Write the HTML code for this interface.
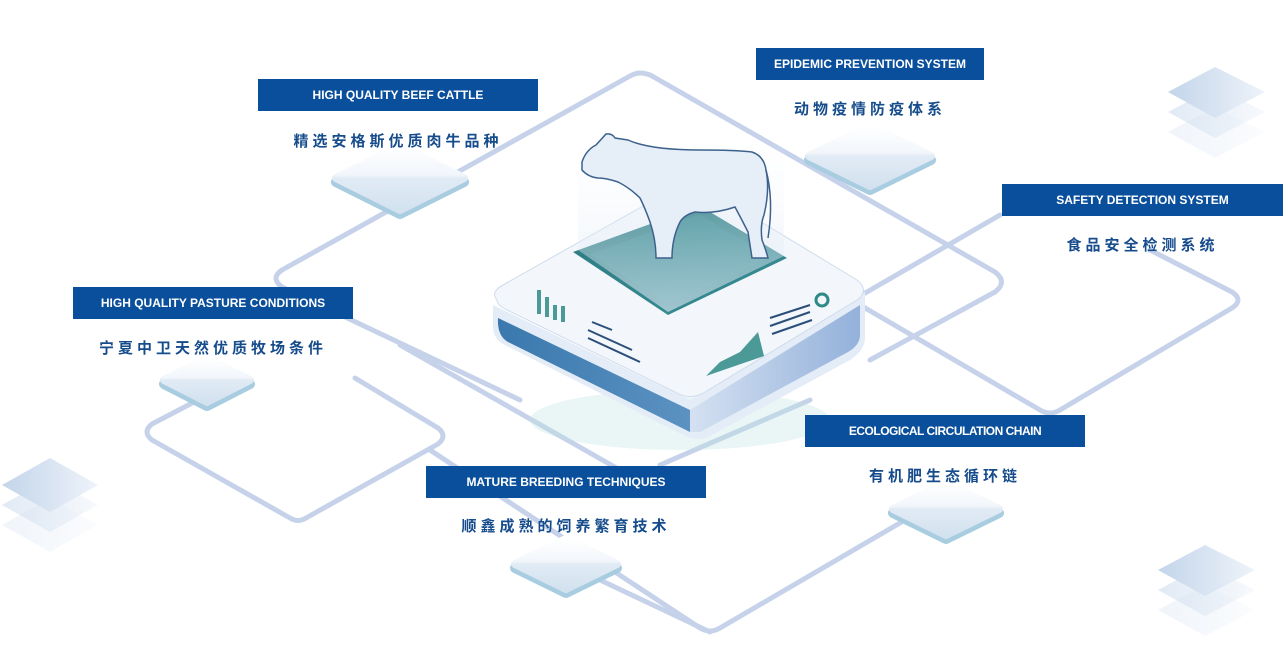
<!DOCTYPE html>
<html><head><meta charset="utf-8"><style>
html,body{margin:0;padding:0;background:#fff;}
#c{position:relative;width:1283px;height:660px;overflow:hidden;font-family:"Liberation Sans","Noto Sans CJK SC",sans-serif;}
.bar{position:absolute;height:32px;background:#0a4f9b;color:#fff;font-weight:bold;font-size:12px;line-height:32px;text-align:center;}
.cn{position:absolute;color:#164c8c;font-weight:bold;font-size:15px;letter-spacing:4px;text-align:center;font-family:"Noto Sans CJK SC","Liberation Sans",sans-serif;}
svg{position:absolute;left:0;top:0;}
</style></head><body><div id="c">
<svg width="1283" height="660" viewBox="0 0 1283 660">
<defs>
<linearGradient id="pad" x1="0" y1="0" x2="0" y2="1"><stop offset="0" stop-color="#ffffff"/><stop offset="0.45" stop-color="#f2f6fb"/><stop offset="0.5" stop-color="#e1ebf5"/><stop offset="1" stop-color="#d3e2ef"/></linearGradient>
<linearGradient id="sq" x1="0" y1="0" x2="1" y2="0"><stop offset="0" stop-color="#c3d5ea"/><stop offset="1" stop-color="#eef3fa"/></linearGradient>
<linearGradient id="lf" x1="0" y1="0" x2="1" y2="0"><stop offset="0" stop-color="#3a78ad"/><stop offset="1" stop-color="#5b92c2"/></linearGradient>
<linearGradient id="rf" x1="0" y1="0" x2="1" y2="0"><stop offset="0" stop-color="#d5e1f2"/><stop offset="1" stop-color="#93b1da"/></linearGradient>
<linearGradient id="glass" x1="0" y1="0" x2="0" y2="1"><stop offset="0" stop-color="#eef3f9" stop-opacity="0"/><stop offset="1" stop-color="#dfe9f5" stop-opacity="0.9"/></linearGradient>
<linearGradient id="teal" x1="0" y1="0" x2="1" y2="1"><stop offset="0" stop-color="#2c7a80"/><stop offset="1" stop-color="#3a8e96"/></linearGradient>
</defs>
<g fill="none" stroke="#c5d2ea" stroke-width="5" stroke-linejoin="round" stroke-linecap="round">
<path d="M520 400 L282 287 Q270 278 282 270 L630 76 Q640 70 652 76 L995 272 Q1008 282 995 292 L870 360"/>
<path d="M355 378 L438 428 Q448 436 438 444 L306 518 Q298 523 290 518 L152 440 Q142 432 152 424 L240 378"/>
<path d="M860 296 L1000 215 M1150 250 L1232 292 Q1244 300 1232 308 L1060 410 Q1050 416 1040 410 L800 270"/>
<path d="M430 450 L700 628 Q710 634 720 628 L905 520"/>
<path d="M660 465 L810 400 M400 345 L620 470 M600 580 L710 632"/>
</g>
<g>
<path d="M1168 92 L1215 67 L1265 92 L1215 118Z" fill="url(#sq)"/>
<path d="M1168 112 L1215 87 L1265 112 L1215 138Z" fill="url(#sq)" opacity="0.5"/>
<path d="M1168 132 L1215 107 L1265 132 L1215 158Z" fill="url(#sq)" opacity="0.25"/>
<path d="M2 485 L50 458 L98 485 L50 512Z" fill="url(#sq)"/>
<path d="M2 505 L50 478 L98 505 L50 532Z" fill="url(#sq)" opacity="0.5"/>
<path d="M2 525 L50 498 L98 525 L50 552Z" fill="url(#sq)" opacity="0.25"/>
<path d="M1158 570 L1205 545 L1255 570 L1205 596Z" fill="url(#sq)"/>
<path d="M1158 590 L1205 565 L1255 590 L1205 616Z" fill="url(#sq)" opacity="0.5"/>
<path d="M1158 610 L1205 585 L1255 610 L1205 636Z" fill="url(#sq)" opacity="0.25"/>
</g>
<!-- pads: rounded diamonds -->
<g stroke-linejoin="round">
<g stroke="#a9cde0" stroke-width="10"><path d="M336 182 L400 150 L464 182 L400 214Z"/><path d="M809 160 L870 130 L931 160 L870 190Z"/><path d="M164 384 L207 362 L250 384 L207 406Z"/><path d="M893 513 L946 487 L999 513 L946 539Z"/><path d="M515 568 L566 543 L617 568 L566 593Z"/></g>
<g stroke="url(#pad)" fill="url(#pad)" stroke-width="8"><path d="M336 178 L400 146 L464 178 L400 210Z"/><path d="M809 156 L870 126 L931 156 L870 186Z"/><path d="M164 380 L207 358 L250 380 L207 402Z"/><path d="M893 509 L946 483 L999 509 L946 535Z"/><path d="M515 564 L566 539 L617 564 L566 589Z"/></g>
</g>
<!-- platform -->
<ellipse cx="680" cy="420" rx="150" ry="30" fill="#bfe6e3" opacity="0.35"/>
<path d="M493 305 L690 400 L865 292 L865 335 Q866 350 850 360 L710 436 Q698 442 685 436 L505 345 Q492 338 493 325Z" fill="#e3ecf7"/>
<path d="M498 318 L690 410 L690 432 L508 342 Q497 336 498 318Z" fill="url(#lf)"/>
<path d="M690 410 L860 305 L860 335 Q860 345 848 352 L700 432 L690 432Z" fill="url(#rf)"/>
<path d="M497 300 Q490 292 503 285 L675 188 Q690 180 705 188 L857 280 Q870 290 857 300 L705 392 Q690 401 675 392 L507 310 Q497 305 497 300Z" fill="#f3f7fc" stroke="#cfdcec"/>
<path d="M573 252 L700 206 L787 258 L668 315Z" fill="url(#teal)"/>
<path d="M590 254 L700 214 L770 258 L668 304Z" fill="#3a8f98" opacity="0.5"/>
<path d="M578 140 L578 250 L668 312 L784 256 L784 140Z" fill="url(#glass)" opacity="0.7"/>
<g fill="#2e8a86" opacity="0.85"><rect x="537" y="290" width="4" height="24"/><rect x="545" y="297" width="4" height="20"/><rect x="553" y="305" width="4" height="15"/><rect x="561" y="306" width="4" height="16"/></g>
<g stroke="#2b4f7a" stroke-width="2"><line x1="592" y1="322" x2="612" y2="330"/><line x1="588" y1="330" x2="632" y2="350"/><line x1="588" y1="338" x2="640" y2="362"/><line x1="770" y1="318" x2="810" y2="305"/><line x1="770" y1="326" x2="810" y2="312"/><line x1="772" y1="334" x2="812" y2="320"/></g>
<path d="M706 376 L720 362 L740 352 L758 332 L764 356 Z" fill="#2e8a86" opacity="0.85"/>
<circle cx="822" cy="300" r="6" fill="none" stroke="#2e8a86" stroke-width="3"/>
<!-- cow -->
<path d="M582 162 Q586 150 596 145 L606 134 Q612 133 615 138 L628 140 Q650 150 700 150 Q735 150 752 152 Q764 156 766 170 Q770 190 764 215 Q760 225 762 240 Q766 250 768 258 L752 258 Q750 245 748 232 Q742 220 735 207 Q715 214 695 212 Q684 215 680 222 Q672 238 672 258 L656 258 Q656 240 650 222 Q645 208 640 198 Q630 188 618 182 Q606 178 598 178 Q588 177 582 170Z" fill="#e6eef7" stroke="#3d618d" stroke-width="1.5"/>
<path d="M766 170 Q774 200 768 238" fill="none" stroke="#3d618d" stroke-width="1.5"/>
</svg>
<div class="bar" style="left:258px;top:79px;width:280px;">HIGH QUALITY BEEF CATTLE</div>
<div class="cn" style="left:258px;top:130px;width:280px;">精选安格斯优质肉牛品种</div>
<div class="bar" style="left:756px;top:48px;width:228px;">EPIDEMIC PREVENTION SYSTEM</div>
<div class="cn" style="left:756px;top:98px;width:228px;">动物疫情防疫体系</div>
<div class="bar" style="left:1002px;top:184px;width:281px;">SAFETY DETECTION SYSTEM</div>
<div class="cn" style="left:1002px;top:234px;width:281px;">食品安全检测系统</div>
<div class="bar" style="left:73px;top:287px;width:280px;">HIGH QUALITY PASTURE CONDITIONS</div>
<div class="cn" style="left:73px;top:337px;width:280px;">宁夏中卫天然优质牧场条件</div>
<div class="bar" style="left:805px;top:415px;width:280px;letter-spacing:-0.5px;">ECOLOGICAL CIRCULATION CHAIN</div>
<div class="cn" style="left:805px;top:465px;width:280px;">有机肥生态循环链</div>
<div class="bar" style="left:426px;top:466px;width:280px;">MATURE BREEDING TECHNIQUES</div>
<div class="cn" style="left:426px;top:515px;width:280px;">顺鑫成熟的饲养繁育技术</div>
</div></body></html>
